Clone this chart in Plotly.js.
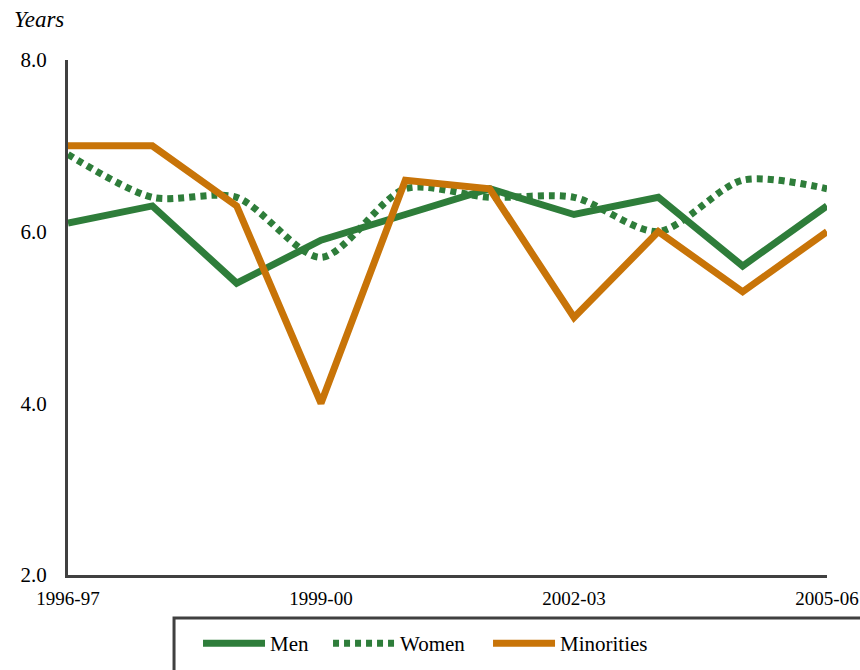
<!DOCTYPE html>
<html>
<head>
<meta charset="utf-8">
<script src="https://cdn.plot.ly/plotly-3.0.1.min.js"></script>
<style>body{margin:0;padding:0;background:#fff}#chart{width:860px;height:670px}</style>
</head>
<body>
<div id="chart"></div>
<script>
const categories = ["1996-97","1997-98","1998-99","1999-00","2000-01","2001-02","2002-03","2003-04","2004-05","2005-06"];
const men = [6.1, 6.3, 5.4, 5.9, 6.2, 6.5, 6.2, 6.4, 5.6, 6.3];
const women = [6.9, 6.4, 6.4, 5.7, 6.5, 6.4, 6.4, 6.0, 6.6, 6.5];
const minorities = [7.0, 7.0, 6.3, 4.0, 6.6, 6.5, 5.0, 6.0, 5.3, 6.0];
const tickLabels = ["1996-97","1999-00","2002-03","2005-06"];
const yTicks = [2, 4, 6, 8];

const green = "#2E7D3A";
const orange = "#C87408";
const axisColor = "#404040";
const font = "'Liberation Serif', 'Times New Roman', serif";

const traces = [
  {x: categories, y: men, name: "Men", type: "scatter", mode: "lines", legend: "legend",
   line: {color: green, width: 7}},
  {x: categories, y: women, name: "Women", type: "scatter", mode: "lines", legend: "legend2",
   line: {color: green, width: 7, dash: "6px,5px", shape: "spline", smoothing: 0.8}},
  {x: categories, y: minorities, name: "Minorities", type: "scatter", mode: "lines", legend: "legend3",
   line: {color: orange, width: 7}}
];

function legendAt(x) {
  return {
    orientation: "h", x: x, xanchor: "left", y: -0.133, yanchor: "middle",
    font: {family: font, size: 21, color: "#000"}, bgcolor: "rgba(0,0,0,0)", borderwidth: 0,
    itemwidth: 62
  };
}

const layout = {
  width: 860, height: 670,
  margin: {l: 68, r: 33, t: 60, b: 95, autoexpand: false},
  paper_bgcolor: "#fff", plot_bgcolor: "#fff",
  font: {family: font, size: 20, color: "#000"},
  showlegend: true,
  xaxis: {
    type: "category", range: [0, 9], showgrid: false, zeroline: false,
    showline: true, linecolor: axisColor, linewidth: 3,
    tickvals: tickLabels, ticktext: tickLabels, ticks: "",
    tickfont: {family: font, size: 19, color: "#000"}, ticklabelstandoff: 4
  },
  yaxis: {
    range: [2, 8], tickvals: yTicks, tickformat: ".1f", showgrid: false, zeroline: false,
    showline: true, linecolor: axisColor, linewidth: 3, ticks: "",
    tickfont: {family: font, size: 21, color: "#000"}, ticklabelstandoff: 14
  },
  legend: legendAt(0.1713),
  legend2: legendAt(0.3426),
  legend3: legendAt(0.5534),
  shapes: [{
    type: "rect", xref: "paper", yref: "paper",
    x0: 0.1397, x1: 1.2, y0: -0.0835, y1: -0.4,
    line: {color: axisColor, width: 3}, fillcolor: "rgba(0,0,0,0)"
  }],
  annotations: [{
    text: "<i>Years</i>", xref: "paper", yref: "paper",
    x: -0.074, xanchor: "left", y: 1.078, yanchor: "middle", showarrow: false,
    font: {family: font, size: 23, color: "#000"}
  }]
};

Plotly.newPlot("chart", traces, layout, {displayModeBar: false});
</script>
</body>
</html>
